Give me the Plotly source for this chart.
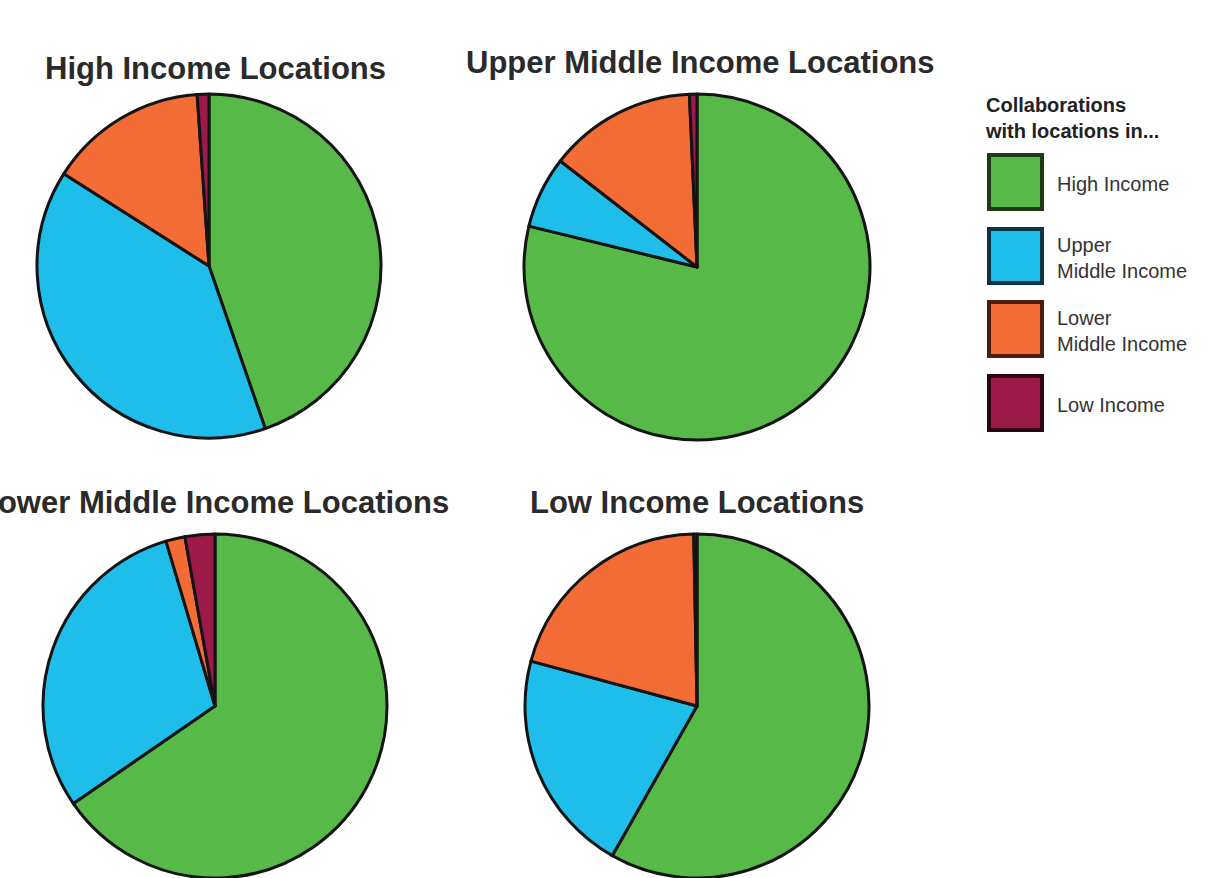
import plotly.graph_objects as go

# Collaboration shares (%) by partner income group, for each location group
categories = ["High Income", "Upper Middle Income", "Lower Middle Income", "Low Income"]
legend_labels = ["High Income", "Upper<br>Middle Income", "Lower<br>Middle Income", "Low Income"]
panel_titles = [
    "High Income Locations",
    "Upper Middle Income Locations",
    "Lower Middle Income Locations",
    "Low Income Locations",
]
high_income_values = [44.7, 39.3, 14.9, 1.1]
upper_middle_values = [78.8, 6.7, 13.8, 0.7]
lower_middle_values = [65.4, 30.0, 1.8, 2.8]
low_income_values = [58.2, 21.0, 20.5, 0.3]

colors = ["#56b948", "#1fbde9", "#f36c36", "#9c1a48"]
swatch_edges = ["#1e3a17", "#0b3446", "#4a1d0e", "#2b0612"]

W, H = 1215, 878


def domain(cx, cy, r):
    return dict(x=[(cx - r) / W, (cx + r) / W], y=[1 - (cy + r) / H, 1 - (cy - r) / H])


panels = [
    (high_income_values, domain(209, 266, 172), (215, 68)),
    (upper_middle_values, domain(697, 267, 173), (700, 63)),
    (lower_middle_values, domain(215, 706, 172), (214, 502)),
    (low_income_values, domain(697, 706, 172), (697, 502)),
]

fig = go.Figure()
for values, dom, _ in panels:
    fig.add_trace(go.Pie(
        labels=categories,
        values=values,
        sort=False,
        direction="clockwise",
        rotation=0,
        domain=dom,
        textinfo="none",
        hoverinfo="label+percent",
        marker=dict(colors=colors, line=dict(color="#141414", width=3)),
        showlegend=False,
    ))

annotations = []
for title, (_, _, (tx, ty)) in zip(panel_titles, panels):
    annotations.append(dict(
        text="<b>" + title + "</b>", x=tx / W, y=1 - ty / H, xref="paper", yref="paper",
        xanchor="center", yanchor="middle", showarrow=False,
        font=dict(family="Liberation Sans, Arial", size=31, color="#2a2a2a"),
    ))

# Legend drawn as large swatches with labels
annotations.append(dict(
    text="<b>Collaborations<br>with locations in...</b>", x=983 / W, y=1 - 118 / H,
    xref="paper", yref="paper", xanchor="left", yanchor="middle", align="left",
    showarrow=False, font=dict(family="Liberation Sans, Arial", size=20, color="#222222"),
))
shapes = []
swatch_top = [155, 229, 302, 376]
for label, color, edge, top in zip(legend_labels, colors, swatch_edges, swatch_top):
    shapes.append(dict(
        type="rect", xref="paper", yref="paper",
        x0=989 / W, x1=1042 / W, y0=1 - (top + 54) / H, y1=1 - top / H,
        fillcolor=color, line=dict(color=edge, width=4),
    ))
    annotations.append(dict(
        text=label, x=1055 / W, y=1 - (top + 29) / H, xref="paper", yref="paper",
        xanchor="left", yanchor="middle", align="left", showarrow=False,
        font=dict(family="Liberation Sans, Arial", size=20, color="#333333"),
    ))

fig.update_layout(
    width=W, height=H,
    margin=dict(l=0, r=0, t=0, b=0),
    paper_bgcolor="white", plot_bgcolor="white",
    annotations=annotations, shapes=shapes,
)

fig.write_html("out.html")
